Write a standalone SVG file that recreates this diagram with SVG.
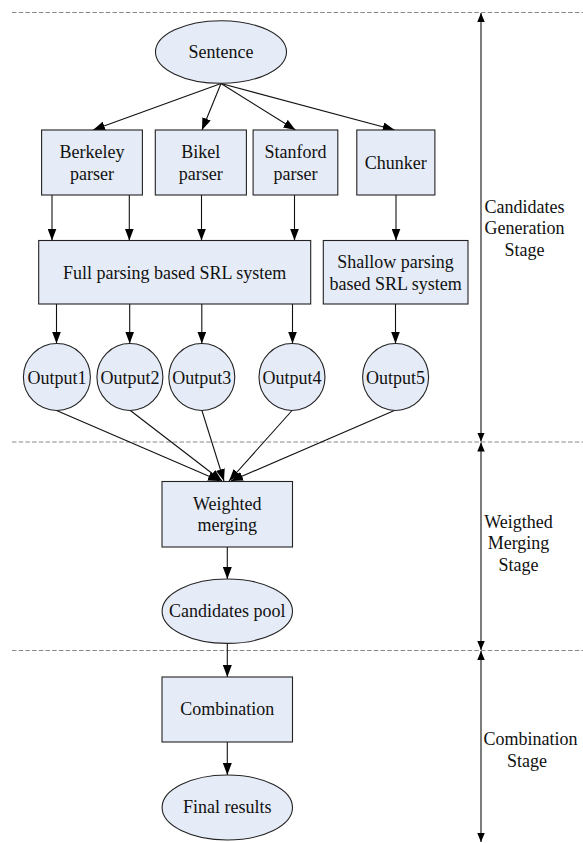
<svg xmlns="http://www.w3.org/2000/svg" width="583" height="843" viewBox="0 0 583 843">
<style>
  .node { fill: #e6ecf7; stroke: #222; stroke-width: 1.1; }
  .t { font-family: "Liberation Serif", "Times New Roman", serif; font-size: 18px; fill: #111; text-anchor: middle; }
  .c { stroke: #111; stroke-width: 1.1; fill: none; marker-end: url(#ah); }
  .dash { stroke: #888; stroke-width: 1; stroke-dasharray: 4.5 2.2; fill: none; }
  .stage { stroke: #111; stroke-width: 1.1; fill: none; marker-start: url(#sh); marker-end: url(#sh); }
</style>
<defs>
  <marker id="ah" markerUnits="userSpaceOnUse" markerWidth="12" markerHeight="9" refX="12" refY="4.5" orient="auto">
    <path d="M0,0 L12,4.5 L0,9 z" fill="#000"/>
  </marker>
  <marker id="sh" markerUnits="userSpaceOnUse" markerWidth="9" markerHeight="8" refX="9" refY="3.75" orient="auto-start-reverse">
    <path d="M0,0 L9,3.75 L0,7.5 z" fill="#000"/>
  </marker>
</defs>
<rect width="583" height="843" fill="#fff"/>

<g id="separators">
  <line class="dash" x1="12" y1="12.5" x2="583" y2="12.5"/>
  <line class="dash" x1="12" y1="442" x2="583" y2="442"/>
  <line class="dash" x1="12" y1="650.5" x2="583" y2="650.5"/>
</g>

<g id="stage-arrows">
  <line class="stage" x1="481" y1="13" x2="481" y2="441.5"/>
  <line class="stage" x1="481" y1="442.5" x2="481" y2="650"/>
  <line class="stage" x1="481" y1="651" x2="481" y2="842"/>
</g>

<g id="stage-labels">
  <text class="t" x="524.5" y="212.5">Candidates</text>
  <text class="t" x="524.5" y="234">Generation</text>
  <text class="t" x="524.5" y="255.5">Stage</text>
  <text class="t" x="518.5" y="527.5">Weigthed</text>
  <text class="t" x="518.5" y="549">Merging</text>
  <text class="t" x="518.5" y="570.5">Stage</text>
  <text class="t" x="530.5" y="745">Combination</text>
  <text class="t" x="527" y="766.5">Stage</text>
</g>

<g id="connectors">
  <line class="c" x1="221" y1="83.5" x2="93" y2="130"/>
  <line class="c" x1="221" y1="83.5" x2="202" y2="130"/>
  <line class="c" x1="221" y1="83.5" x2="295.5" y2="130"/>
  <line class="c" x1="221" y1="83.5" x2="394.7" y2="130"/>
  <line class="c" x1="52" y1="195" x2="52" y2="240.5"/>
  <line class="c" x1="129.3" y1="195" x2="129.3" y2="240.5"/>
  <line class="c" x1="201.5" y1="195" x2="201.5" y2="240.5"/>
  <line class="c" x1="294.5" y1="195" x2="294.5" y2="240.5"/>
  <line class="c" x1="396" y1="195" x2="396" y2="240.5"/>
  <line class="c" x1="56.5" y1="304" x2="56.5" y2="343.5"/>
  <line class="c" x1="129.7" y1="304" x2="129.7" y2="343.5"/>
  <line class="c" x1="201.8" y1="304" x2="201.8" y2="343.5"/>
  <line class="c" x1="292.5" y1="304" x2="292.5" y2="343.5"/>
  <line class="c" x1="395.5" y1="304" x2="395.5" y2="343.5"/>
  <line class="c" x1="56.5" y1="410.5" x2="220" y2="481"/>
  <line class="c" x1="129.7" y1="410" x2="222" y2="481"/>
  <line class="c" x1="201.8" y1="410" x2="224" y2="481"/>
  <line class="c" x1="292.5" y1="410" x2="229" y2="481"/>
  <line class="c" x1="395.5" y1="410" x2="231" y2="481"/>
  <line class="c" x1="227.3" y1="547" x2="227.3" y2="579"/>
  <line class="c" x1="227.3" y1="643.3" x2="227.3" y2="677"/>
  <line class="c" x1="227.3" y1="742" x2="227.3" y2="775"/>
</g>

<g id="sentence">
  <ellipse class="node" cx="221" cy="52" rx="65.5" ry="31.3"/>
  <text class="t" x="221" y="58">Sentence</text>
</g>
<g id="berkeley">
  <rect class="node" x="41.6" y="130" width="100.8" height="65"/>
  <text class="t" x="92" y="157.5">Berkeley</text>
  <text class="t" x="92" y="179.5">parser</text>
</g>
<g id="bikel">
  <rect class="node" x="155.3" y="130" width="91.1" height="65"/>
  <text class="t" x="200.8" y="157.5">Bikel</text>
  <text class="t" x="200.8" y="179.5">parser</text>
</g>
<g id="stanford">
  <rect class="node" x="253.1" y="130" width="84.7" height="65"/>
  <text class="t" x="295.5" y="157.5">Stanford</text>
  <text class="t" x="295.5" y="179.5">parser</text>
</g>
<g id="chunker">
  <rect class="node" x="356.8" y="130" width="78.1" height="65"/>
  <text class="t" x="395.8" y="169">Chunker</text>
</g>
<g id="full-srl">
  <rect class="node" x="38.7" y="240.5" width="272" height="63.5"/>
  <text class="t" x="174.7" y="279">Full parsing based SRL system</text>
</g>
<g id="shallow-srl">
  <rect class="node" x="323.3" y="240.5" width="144.7" height="63.5"/>
  <text class="t" x="395.6" y="268">Shallow parsing</text>
  <text class="t" x="395.6" y="290">based SRL system</text>
</g>
<g id="output1">
  <ellipse class="node" cx="56.9" cy="377" rx="33.5" ry="33.5"/>
  <text class="t" x="56.9" y="383.5">Output1</text>
</g>
<g id="output2">
  <ellipse class="node" cx="129.9" cy="377" rx="33" ry="33.5"/>
  <text class="t" x="129.9" y="383.5">Output2</text>
</g>
<g id="output3">
  <ellipse class="node" cx="201.8" cy="377" rx="33" ry="33.5"/>
  <text class="t" x="201.8" y="383.5">Output3</text>
</g>
<g id="output4">
  <ellipse class="node" cx="292" cy="377" rx="33" ry="33.5"/>
  <text class="t" x="292" y="383.5">Output4</text>
</g>
<g id="output5">
  <ellipse class="node" cx="395.6" cy="377" rx="33" ry="33.5"/>
  <text class="t" x="395.6" y="383.5">Output5</text>
</g>
<g id="weighted-merging">
  <rect class="node" x="162" y="481.5" width="130.5" height="65.5"/>
  <text class="t" x="227.3" y="509.5">Weighted</text>
  <text class="t" x="227.3" y="531">merging</text>
</g>
<g id="candidates-pool">
  <ellipse class="node" cx="227.3" cy="611.2" rx="65.2" ry="32.2"/>
  <text class="t" x="227.3" y="617.3">Candidates pool</text>
</g>
<g id="combination">
  <rect class="node" x="162" y="677" width="130.5" height="65"/>
  <text class="t" x="227.3" y="715">Combination</text>
</g>
<g id="final-results">
  <ellipse class="node" cx="227.3" cy="807.5" rx="65.2" ry="32.5"/>
  <text class="t" x="227.3" y="813">Final results</text>
</g>
</svg>
